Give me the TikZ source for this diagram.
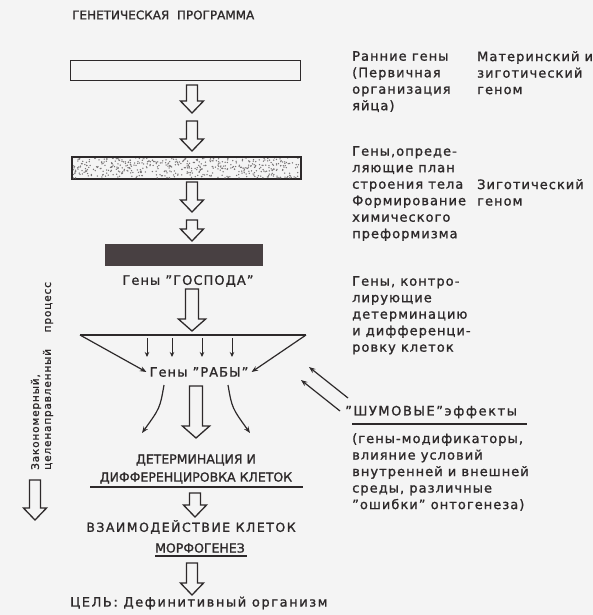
\documentclass[tikz,border=0pt]{standalone}
\usepackage{fontspec}
\setmainfont{DejaVu Sans}[FakeBold=1.2]
\newfontfamily\capsfont{DejaVu Sans}[FakeBold=1.2]
\newfontfamily\widecaps{DejaVu Sans}[FakeBold=1.2, LetterSpace=12]
\newfontfamily\lowfont{DejaVu Sans}[FakeBold=1.2, LetterSpace=8]
\newfontfamily\widelow{DejaVu Sans}[FakeBold=1.2, LetterSpace=12]
\usetikzlibrary{calc,arrows.meta}
\definecolor{ink}{RGB}{45,41,42}
\definecolor{paper}{RGB}{244,244,244}
\definecolor{darkbar}{RGB}{72,64,66}

% hollow block arrow pointing down, from #2 (top) to #3 (tip), shaft width #4
\newcommand{\hollowdown}[4][]{%
  \draw[ink, line width=1.3pt, fill=paper, line join=miter, #1] let \p1=(#2), \p2=(#3) in
    (\x1-#4*0.5pt,\y1) -- (\x1+#4*0.5pt,\y1) -- (\x1+#4*0.5pt,\y2+12pt)
    -- (\x1+#4*1.05pt,\y2+12pt) -- (\x1,\y2) -- (\x1-#4*1.05pt,\y2+12pt)
    -- (\x1-#4*0.5pt,\y2+12pt) -- cycle;}

\begin{document}
\begin{tikzpicture}[x=1pt,y=-1pt,
  txt/.style={font=\lowfont\fontsize{13}{16.5}\selectfont, text=ink, inner sep=0pt, align=left, anchor=north west},
  ctxt/.style={font=\capsfont\fontsize{12.5}{18}\selectfont, text=ink, inner sep=0pt, align=center},
  ltxt/.style={font=\lowfont\fontsize{13}{16}\selectfont, text=ink, inner sep=0pt, align=center},
  barbox/.style={draw=ink, line width=1.3pt, minimum height=20pt, inner sep=0pt, anchor=north west},
  thinarr/.style={draw=ink, line width=1.2pt, -{Stealth[length=6.5pt,width=5pt]}},
  smallarr/.style={draw=ink, line width=1pt, -{Stealth[length=5pt,width=4.5pt]}}
]
\fill[paper] (0,0) rectangle (593,615);
\useasboundingbox (0,0) rectangle (593,615);

% title
\node[ctxt, anchor=west, font=\capsfont\fontsize{12}{14}\selectfont] (title) at (72,15) {ГЕНЕТИЧЕСКАЯ\ \ ПРОГРАММА};

% first bar: early genes
\node[barbox, minimum width=230pt, fill=paper] (bar1) at (70,60) {};
% second bar: stippled
\node[barbox, minimum width=228pt, minimum height=21pt, fill=paper] (bar2) at (72,157) {};
\begin{scope}
  \clip (72,157) rectangle (300,178);
  \pgfmathsetseed{11}
  \foreach \i in {1,...,520} {
    \fill[ink!65] ({72+228*rnd},{157+21*rnd}) circle (0.75);
  }
\end{scope}
\draw[ink, line width=1.3pt] (bar2.north west) rectangle (bar2.south east);
% third bar: master genes
\node[barbox, minimum width=157pt, minimum height=21pt, fill=darkbar, draw=darkbar] (bar3) at (105,244) {};

% block arrows between the bars
\coordinate (a1t) at (192,85);  \coordinate (a1b) at (192,113);
\coordinate (a2t) at (192,121); \coordinate (a2b) at (192,151);
\coordinate (a3t) at (192,182); \coordinate (a3b) at (192,212);
\coordinate (a4t) at (192,220); \coordinate (a4b) at (192,241);
\hollowdown{a1t}{a1b}{11}
\hollowdown{a2t}{a2b}{11}
\hollowdown{a3t}{a3b}{11}
\hollowdown{a4t}{a4b}{11}

\node[ltxt] (gospoda) at (188,281) {Гены ”ГОСПОДА”};
\coordinate (a5t) at (192,289); \coordinate (a5b) at (192,331);
\hollowdown{a5t}{a5b}{13}

% distribution line
\coordinate (lineL) at (80,335);
\coordinate (lineR) at (306,335);
\draw[ink, line width=1.3pt] (lineL) -- (lineR);
\foreach \x [count=\i] in {147,172,202,232} {
  \coordinate (st\i) at (\x,338);
  \coordinate (sb\i) at (\x,357);
  \draw[smallarr] (st\i) -- (sb\i);
}

\node[ltxt, inner sep=3pt] (raby) at (199,372) {Гены ”РАБЫ”};
\draw[thinarr] (lineL) -- (raby.west);
\draw[thinarr] (lineR) -- (raby.east);

% outputs of the slave genes
\coordinate (cl1) at (164,385); \coordinate (cl2) at (142,433);
\coordinate (cr1) at (228,385); \coordinate (cr2) at (250,433);
\draw[thinarr] (cl1) .. controls (160,408) .. (cl2);
\draw[thinarr] (cr1) .. controls (232,408) .. (cr2);
\coordinate (a6t) at (196,386); \coordinate (a6b) at (196,438);
\hollowdown{a6t}{a6b}{13}

\node[ctxt] (det) at (196,469) {ДЕТЕРМИНАЦИЯ И\\ДИФФЕРЕНЦИРОВКА КЛЕТОК};
\draw[ink, line width=1.2pt] (90,487) -- (303,487);
\coordinate (a7t) at (195,493); \coordinate (a7b) at (195,517);
\hollowdown{a7t}{a7b}{11}

\node[ctxt, font=\widecaps\fontsize{12.5}{18}\selectfont] (vzaim) at (191,527) {ВЗАИМОДЕЙСТВИЕ КЛЕТОК};
\node[ctxt] (morf) at (200,548) {МОРФОГЕНЕЗ};
\draw[ink, line width=1.2pt] (morf.south west)++(0,3) -- ++(92,0);
\coordinate (a8t) at (192,563); \coordinate (a8b) at (192,595);
\hollowdown{a8t}{a8b}{11}
\node[ltxt, anchor=west, font=\widelow\fontsize{13}{16}\selectfont] (goal) at (70,603) {ЦЕЛЬ: Дефинитивный организм};

% right-hand explanations
\node[txt] (early) at (352,51) {Ранние гены\\(Первичная\\организация\\яйца)};
\node[txt] (mat) at (477,51) {Материнский и\\зиготический\\геном};
\node[txt] (plan) at (352,146) {Гены,опреде-\\ляющие план\\строения тела\\Формирование\\химического\\преформизма};
\node[txt] (zyg) at (477,179) {Зиготический\\геном};
\node[txt] (ctrl) at (352,276) {Гены, контро-\\лирующие\\детерминацию\\и дифференци-\\ровку клеток};

% noise effects
\node[txt, anchor=west, font=\widelow\fontsize{13}{16}\selectfont] (noise) at (345,412) {”ШУМОВЫЕ”эффекты};
\draw[ink, line width=1.8pt] (352,424) -- (527,424);
\node[txt] (mods) at (352,433) {(гены-модификаторы,\\влияние условий\\внутренней и внешней\\среды, различные\\”ошибки” онтогенеза)};
\coordinate (n1s) at (348,398); \coordinate (n1e) at (309,367);
\coordinate (n2s) at (340,411); \coordinate (n2e) at (301,380);
\draw[thinarr] (n1s) -- (n1e);
\draw[thinarr] (n2s) -- (n2e);

% direction of the process
\node[text=ink, inner sep=0pt, rotate=90, anchor=west, align=left,
      font=\lowfont\fontsize{10.5}{12}\selectfont] (proc) at (42,470)
      {Закономерный,\\целенаправленный\ \ \ \ процесс};
\coordinate (a9t) at (35,480); \coordinate (a9b) at (35,520);
\hollowdown{a9t}{a9b}{11}
\end{tikzpicture}
\end{document}
